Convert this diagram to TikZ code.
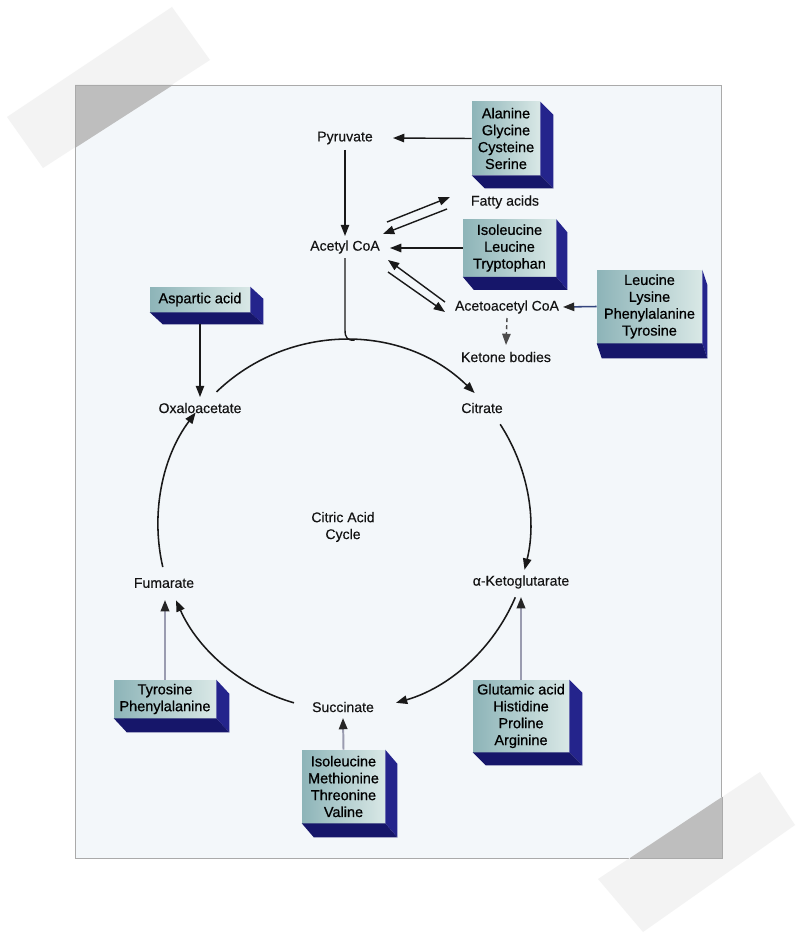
\documentclass[tikz,border=0pt]{standalone}
\usepackage{fontspec}
\setmainfont{Liberation Sans}
\newfontfamily\lblfont[FakeBold=0.3]{Liberation Sans}
\newfontfamily\boxfont[FakeBold=0.7]{Liberation Sans}
\usetikzlibrary{arrows.meta,calc}
\definecolor{paperbg}{HTML}{F3F7FA}
\definecolor{paperedge}{HTML}{AAAAAA}
\definecolor{tapecol}{HTML}{F3F3F3}
\definecolor{tapedark}{HTML}{BEBEBE}
\definecolor{faceL}{HTML}{8DB4B8}
\definecolor{faceR}{HTML}{D9E8E6}
\definecolor{sidecol}{HTML}{24248C}
\definecolor{botcol}{HTML}{16166A}
\definecolor{greyline}{HTML}{9A9CB0}
\definecolor{blueline}{HTML}{34457E}
\definecolor{txt}{HTML}{141414}
\tikzset{
  lbl/.style={inner sep=0pt,font=\lblfont\fontsize{10}{12}\selectfont,text=txt},
  boxface/.style={inner sep=0pt,align=center,left color=faceL,right color=faceR,
    font=\boxfont\fontsize{10.3}{12}\selectfont,text=black},
  arr/.style={draw=black!90,line width=1pt,-{Triangle[length=8pt,width=6pt]}},
  garr/.style={draw=greyline,line width=1.4pt,-{Triangle[length=8pt,width=6pt,color=black!85]}},
  cyc/.style={draw=black!90,line width=1.1pt,-{Triangle[length=8pt,width=6pt]}},
}
\newcommand\aminobox[8]{%
  \node[boxface,minimum width=#4*0.025cm,minimum height=#5*0.025cm] (#1) at (#2,#3) {#8};
  \fill[sidecol] (#1.north east) -- ++(#6,#7) -- ($(#1.south east)+(#6,#7)$) -- (#1.south east) -- cycle;
  \fill[botcol] (#1.south west) -- (#1.south east) -- ($(#1.south east)+(#6,#7)$) -- ($(#1.south west)+(#6,#7)$) -- cycle;
}
\begin{document}
\begin{tikzpicture}[x=0.025cm,y=-0.025cm]
\useasboundingbox (0,0) rectangle (796,938);
\fill[white] (0,0) rectangle (796,938);
% paper
\filldraw[fill=paperbg,draw=paperedge,line width=0.6pt] (75,85) rectangle (721,858);
% tapes
\fill[tapecol] (7,117) -- (172,7) -- (210,60) -- (43,168) -- cycle;
\fill[tapedark] (75,85) -- (173,85) -- (75,148) -- cycle;
\fill[tapecol] (598,879) -- (760,772) -- (795,825) -- (643,932) -- cycle;
\fill[tapedark] (722,797) -- (722,858) -- (630,858) -- cycle;
\draw[paperedge,line width=0.6pt] (75,148) -- (75,85) -- (173,85);
\draw[paperedge,line width=0.6pt] (722,797) -- (722,858) -- (630,858);

% labels
\node[lbl] (pyr) at (345,138) {Pyruvate};
\node[lbl] (acetyl) at (345,247) {Acetyl CoA};
\node[lbl] (fatty) at (505,202) {Fatty acids};
\node[lbl] (acac) at (507,307) {Acetoacetyl CoA};
\node[lbl] (ketone) at (506,357) {Ketone bodies};
\node[lbl] (oxalo) at (200,408) {Oxaloacetate};
\node[lbl] (citrate) at (482,408) {Citrate};
\node[lbl] (akg) at (521,582) {α-Ketoglutarate};
\node[lbl] (fum) at (164,583) {Fumarate};
\node[lbl] (succ) at (343,707) {Succinate};
\node[lbl,align=center] (cac) at (343,527) {Citric Acid\\Cycle};

% boxes
\aminobox{b1}{506}{138.5}{68}{73}{13}{13}{Alanine\\Glycine\\Cysteine\\Serine}
\aminobox{b2}{509.5}{248}{93}{57}{11}{13}{Isoleucine\\Leucine\\Tryptophan}
\aminobox{b3}{649.5}{306.5}{105}{73}{5}{15}{Leucine\\Lysine\\Phenylalanine\\Tyrosine}
\aminobox{b4}{200}{299.5}{100}{25}{13}{12}{Aspartic acid}
\aminobox{b5}{165}{699}{102}{38}{13}{14}{Tyrosine\\Phenylalanine}
\aminobox{b6}{343.5}{786.5}{83}{73}{12}{14}{Isoleucine\\Methionine\\Threonine\\Valine}
\aminobox{b7}{521}{716}{96}{72}{13}{13}{Glutamic acid\\Histidine\\Proline\\Arginine}

% connectors
\draw[arr] (b1.west) -- ($(pyr)+(48,0)$);
\draw[arr] ($(pyr)+(0,12)$) -- ($(acetyl)+(0,-11)$);
\draw[arr] ($(acetyl)+(42,-25)$) -- ($(fatty)+(-55,-5)$);
\draw[arr] ($(fatty)+(-58,7)$) -- ($(acetyl)+(38,-13)$);
\draw[arr] (b2.west) -- ($(acetyl)+(45,1)$);
\draw[arr] ($(acac)+(-62,-5)$) -- ($(acetyl)+(43,13)$);
\draw[arr] ($(acetyl)+(43,25)$) -- ($(acac)+(-62,5)$);
\draw[draw=blueline,line width=1.1pt,-{Triangle[length=8pt,width=6pt,color=black!85]}] (b3.west) -- ($(acac)+(56,0)$);
\draw[arr,dash pattern=on 3pt off 2pt,draw=black!70] ($(acac)+(0,11)$) -- ($(ketone)+(0,-12)$);
\draw[arr] ($(b4.south)+(0,12)$) -- ($(oxalo)+(0,-11)$);
\draw[garr] (b5.north) -- ($(fum)+(1,17)$);
\draw[garr] (b6.north) -- ($(succ)+(0,11)$);
\draw[garr] (b7.north) -- ($(akg)+(0,15)$);

% cycle
\coordinate (C) at (345,525);
\draw[cyc] ($(C)+(-134:185)$) arc[start angle=-134,end angle=-45.5,radius=185];
\draw[cyc] ($(C)+(-33:185)$) arc[start angle=-33,end angle=14,radius=185];
\draw[cyc] ($(C)+(23:185)$) arc[start angle=23,end angle=74,radius=185];
\draw[cyc] ($(C)+(106:185)$) arc[start angle=106,end angle=156,radius=185];
\draw[cyc] ($(C)+(-193:187)$) arc[start angle=-193,end angle=-143,radius=187];
% acetyl CoA feeding into the cycle
\coordinate (hk) at (345,330);
\draw[draw=black!90,line width=1pt] ($(acetyl)+(0,11)$) -- (hk) .. controls +(0,8) and +(-7,0.3) .. ($(C)+(-87:185)$);
\end{tikzpicture}
\end{document}
